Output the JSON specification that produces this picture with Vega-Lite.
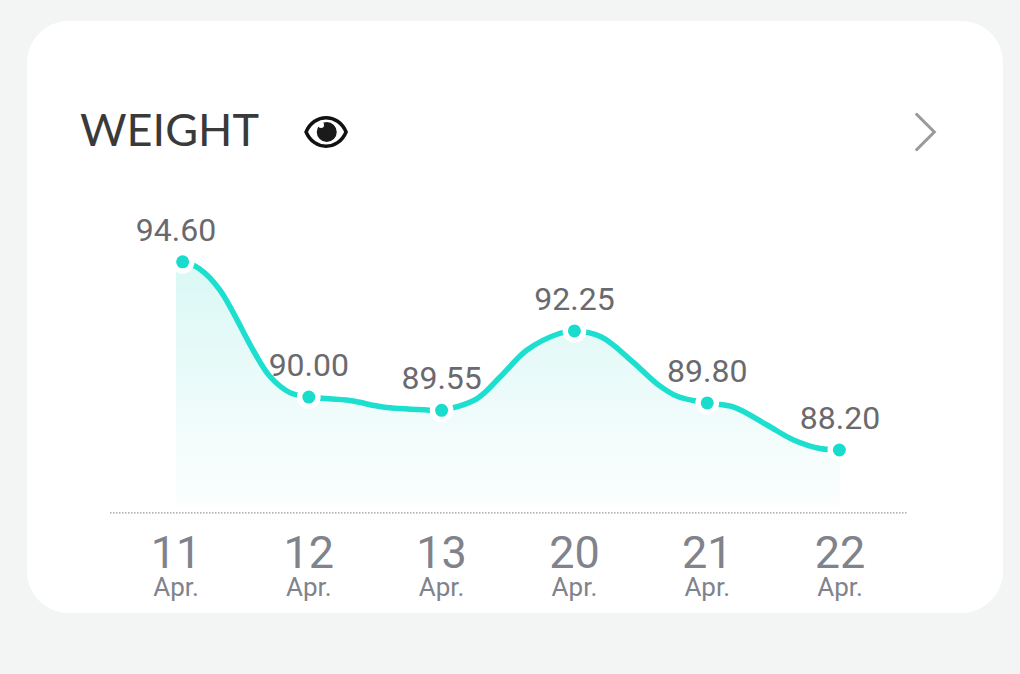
{
  "$schema": "https://vega.github.io/schema/vega-lite/v6.json",
  "description": "Weight readings card",
  "autosize": "none",
  "width": 976,
  "height": 592,
  "padding": { "left": 27, "top": 21, "right": 17, "bottom": 61 },
  "background": "#f3f5f4",
  "view": { "fill": "#ffffff", "stroke": null, "cornerRadius": 42 },
  "title": {
    "text": "WEIGHT",
    "anchor": "start",
    "frame": "group",
    "font": "Lato",
    "fontWeight": 400,
    "fontSize": 45,
    "color": "#3a3a3a",
    "baseline": "alphabetic",
    "offset": 0,
    "dx": 53,
    "dy": 170
  },
  "datasets": {
    "readings": [
      { "slot": 0, "dotSlot": 0.05, "day": "11", "month": "Apr.", "weight": 94.6, "label": "94.60" },
      { "slot": 1, "dotSlot": 1, "day": "12", "month": "Apr.", "weight": 90.0, "label": "90.00" },
      { "slot": 2, "dotSlot": 2, "day": "13", "month": "Apr.", "weight": 89.55, "label": "89.55" },
      { "slot": 3, "dotSlot": 3, "day": "20", "month": "Apr.", "weight": 92.25, "label": "92.25" },
      { "slot": 4, "dotSlot": 4, "day": "21", "month": "Apr.", "weight": 89.8, "label": "89.80" },
      { "slot": 5, "dotSlot": 4.995, "day": "22", "month": "Apr.", "weight": 88.2, "label": "88.20" }
    ],
    "curve": [
      { "slot": 0, "weight": 94.6 },
      { "slot": 0.05, "weight": 94.6 },
      { "slot": 0.181, "weight": 94.35 },
      { "slot": 0.331, "weight": 93.64 },
      { "slot": 0.58, "weight": 91.6 },
      { "slot": 0.708, "weight": 90.7 },
      { "slot": 0.858, "weight": 90.15 },
      { "slot": 1, "weight": 90.0 },
      { "slot": 1.31, "weight": 89.88 },
      { "slot": 1.559, "weight": 89.66 },
      { "slot": 1.89, "weight": 89.56 },
      { "slot": 2, "weight": 89.55 },
      { "slot": 2.267, "weight": 89.95 },
      { "slot": 2.44, "weight": 90.68 },
      { "slot": 2.643, "weight": 91.6 },
      { "slot": 2.892, "weight": 92.17 },
      { "slot": 3, "weight": 92.25 },
      { "slot": 3.2, "weight": 92.05 },
      { "slot": 3.441, "weight": 91.19 },
      { "slot": 3.622, "weight": 90.45 },
      { "slot": 3.773, "weight": 90.03 },
      { "slot": 4, "weight": 89.8 },
      { "slot": 4.2, "weight": 89.66 },
      { "slot": 4.45, "weight": 89.05 },
      { "slot": 4.646, "weight": 88.55 },
      { "slot": 4.85, "weight": 88.25 },
      { "slot": 5, "weight": 88.2 }
    ]
  },
  "data": { "name": "readings" },
  "encoding": {
    "x": {
      "field": "slot",
      "type": "quantitative",
      "axis": null,
      "scale": { "domain": [-1.122, 6.227], "nice": false, "zero": false }
    },
    "y": {
      "field": "weight",
      "type": "quantitative",
      "axis": null,
      "scale": { "domain": [82.656, 102.79], "nice": false, "zero": false }
    }
  },
  "layer": [
    {
      "data": { "name": "curve" },
      "mark": {
        "type": "area",
        "interpolate": "catmull-rom",
        "color": {
          "x1": 0, "y1": 0, "x2": 0, "y2": 1,
          "gradient": "linear",
          "stops": [
            { "offset": 0, "color": "#d9f8f5" },
            { "offset": 1, "color": "#fcfefe" }
          ]
        }
      },
      "encoding": { "y2": { "datum": 86.33 } }
    },
    {
      "data": { "name": "curve" },
      "mark": { "type": "line", "interpolate": "catmull-rom", "color": "#1cdfd0", "strokeWidth": 5.5 },
      "encoding": {}
    },
    {
      "mark": { "type": "point", "shape": "circle", "filled": true, "color": "#ffffff", "opacity": 1, "size": 560 },
      "encoding": { "x": { "field": "dotSlot", "type": "quantitative" } }
    },
    {
      "mark": { "type": "point", "shape": "circle", "filled": true, "color": "#1adccd", "opacity": 1, "size": 169 },
      "encoding": { "x": { "field": "dotSlot", "type": "quantitative" } }
    },
    {
      "mark": { "type": "text", "font": "Roboto", "fontSize": 32, "color": "#6a6a6e", "dy": -31 },
      "encoding": { "text": { "field": "label" } }
    },
    {
      "data": { "values": [{ "from": -0.497, "to": 5.505, "base": 86.06 }] },
      "mark": { "type": "rule", "color": "#999999", "strokeWidth": 1.2, "strokeDash": [1.5, 1.5] },
      "encoding": {
        "x": { "field": "from", "type": "quantitative" },
        "x2": { "field": "to" },
        "y": { "field": "base", "type": "quantitative" }
      }
    },
    {
      "mark": { "type": "text", "font": "Roboto", "fontSize": 45, "color": "#80838c", "baseline": "alphabetic" },
      "encoding": { "text": { "field": "day" }, "y": { "datum": 84.186 } }
    },
    {
      "mark": { "type": "text", "font": "Roboto", "fontSize": 26, "color": "#80838c", "baseline": "alphabetic" },
      "encoding": { "text": { "field": "month" }, "y": { "datum": 83.234 } }
    },
    {
      "data": { "values": [{ "slot": 1.13, "weight": 99.016 }] },
      "mark": {
        "type": "point",
        "shape": "M-1,0 C-0.6,-0.95 0.6,-0.95 1,0 C0.6,0.95 -0.6,0.95 -1,0 Z",
        "filled": false,
        "stroke": "#111111",
        "strokeWidth": 3.5,
        "opacity": 1,
        "size": 1600
      },
      "encoding": {}
    },
    {
      "data": { "values": [{ "slot": 1.135, "weight": 99.016 }] },
      "mark": { "type": "point", "shape": "circle", "filled": true, "color": "#1a1a1a", "opacity": 1, "size": 400 },
      "encoding": {}
    },
    {
      "data": { "values": [{ "slot": 1.092, "weight": 99.25 }] },
      "mark": { "type": "point", "shape": "circle", "filled": true, "color": "#ffffff", "opacity": 1, "size": 36 },
      "encoding": {}
    },
    {
      "data": { "values": [{ "slot": 5.64, "weight": 99.016 }] },
      "mark": {
        "type": "point",
        "shape": "M-0.5,-1 L0.5,0 L-0.5,1",
        "filled": false,
        "stroke": "#999999",
        "strokeWidth": 3,
        "opacity": 1,
        "size": 1369
      },
      "encoding": {}
    }
  ]
}
